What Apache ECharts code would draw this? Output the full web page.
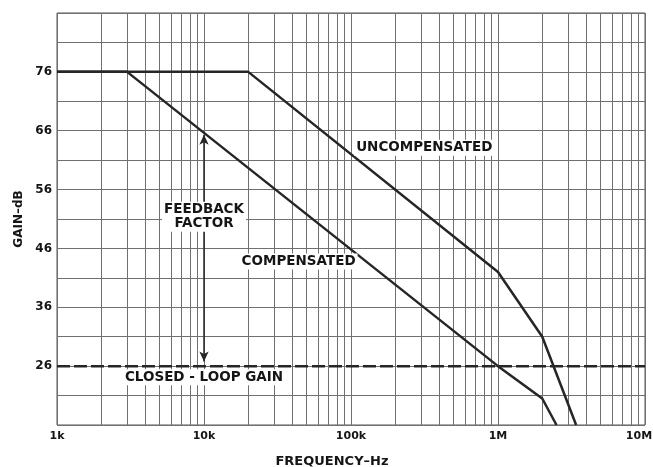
<!DOCTYPE html>
<html>
<head>
<meta charset="utf-8">
<script src="https://cdn.jsdelivr.net/npm/echarts@6/dist/echarts.min.js"></script>
<style>
  html, body { margin: 0; padding: 0; background: #fff; }
  #main { width: 653px; height: 467px; }
</style>
</head>
<body>
<div id="main"></div>
<script>
// Valeurs (fréquence en Hz, gain en dB)
var uncompFreq = [1000, 20000, 1000000, 2000000, 3400000];
var uncompGain = [76, 76, 42, 31, 16];
var compFreq = [1000, 3000, 1000000, 2000000, 2500000];
var compGain = [76, 76, 26, 20.5, 16];
var closedLoopGain = 26;
var feedbackFreq = 10000;
var feedbackTop = 65.3;
var feedbackBottom = 26.8;

// Graduations
var xTickValues = [1000, 10000, 100000, 1000000, 10000000];
var xTickLabels = ['1k', '10k', '100k', '1M', '10M'];
var yTickLabels = [26, 36, 46, 56, 66, 76];

// Textes posés sur le graphique
var noteText = ['UNCOMPENSATED', 'COMPENSATED', 'CLOSED - LOOP GAIN', 'FEEDBACK\nFACTOR'];
var noteFreq = [315000, 44000, 10000, 10000];
var noteGain = [63.1, 43.8, 24.1, 51.4];

var ink = '#151515';
var font = 'DejaVu Sans';

function pairs(xs, ys) {
	var out = [];
	for (var i = 0; i < xs.length; i++) {
		out.push([xs[i], ys[i]]);
	}
	return out;
}

// Lignes verticales de la grille log (2..9 dans chaque décade)
var minorLines = [];
for (var d = 1000; d < 10000000; d *= 10) {
	for (var m = 2; m <= 9; m++) {
		minorLines.push({ xAxis: d * m });
	}
}

var notes = [];
for (var i = 0; i < noteText.length; i++) {
	notes.push({ value: [noteFreq[i], noteGain[i]], name: noteText[i] });
}

var myChart = echarts.init(document.getElementById('main'));

var option = {
	backgroundColor: '#fff',
	animation: false,
	grid: {
		left: 57, right: 8, top: 13, bottom: 42,
		outerBoundsMode: 'none',
		show: true, borderColor: '#555', borderWidth: 1
	},
	xAxis: {
		type: 'log',
		logBase: 10,
		min: 1000,
		max: 10000000,
		name: 'FREQUENCY\u2013Hz',
		nameLocation: 'middle',
		nameGap: 30,
		nameTextStyle: { color: ink, fontFamily: font, fontWeight: 'bold', fontSize: 13, padding: [0, 38, 0, 0] },
		axisLine: { show: false },
		axisTick: { show: false },
		axisLabel: {
			color: ink, fontFamily: font, fontWeight: 'bold', fontSize: 11, margin: 6,
			formatter: function (v) {
				var k = xTickValues.indexOf(Math.round(v));
				if (k < 0) return '';
				// le dernier libellé est décalé vers la gauche pour rester dans le cadre
				return k === xTickValues.length - 1 ? '{end|' + xTickLabels[k] + '}' : xTickLabels[k];
			},
			rich: {
				end: { color: ink, fontFamily: font, fontWeight: 'bold', fontSize: 11, padding: [0, 12, 0, 0] }
			}
		},
		splitLine: { show: true, lineStyle: { color: '#707070', width: 1 } }
	},
	yAxis: {
		type: 'value',
		min: 16,
		max: 86,
		interval: 5,
		name: 'GAIN\u2013dB',
		nameLocation: 'middle',
		nameGap: 31,
		nameTextStyle: { color: ink, fontFamily: font, fontWeight: 'bold', fontSize: 12 },
		axisLine: { show: false },
		axisTick: { show: false },
		axisLabel: {
			color: ink, fontFamily: font, fontWeight: 'bold', fontSize: 12, margin: 5,
			formatter: function (v) {
				return yTickLabels.indexOf(Math.round(v)) >= 0 ? String(Math.round(v)) : '';
			}
		},
		splitLine: { show: true, lineStyle: { color: '#707070', width: 1 } }
	},
	series: [{
		name: 'grid',
		type: 'line',
		data: [],
		silent: true,
		markLine: {
			silent: true,
			symbol: ['none', 'none'],
			label: { show: false },
			lineStyle: { color: '#707070', width: 1, type: 'solid' },
			data: minorLines
		}
	}, {
		name: 'Uncompensated',
		type: 'line',
		data: pairs(uncompFreq, uncompGain),
		showSymbol: false,
		lineStyle: { color: '#262626', width: 2.5 },
		z: 5
	}, {
		name: 'Compensated',
		type: 'line',
		data: pairs(compFreq, compGain),
		showSymbol: false,
		lineStyle: { color: '#262626', width: 2.5 },
		z: 5
	}, {
		name: 'Closed-loop gain',
		type: 'line',
		data: [[1000, closedLoopGain], [10000000, closedLoopGain]],
		showSymbol: false,
		lineStyle: { color: '#262626', width: 2.5, type: [13, 4] },
		z: 5,
		markLine: {
			silent: true,
			symbol: ['arrow', 'arrow'],
			symbolSize: [7, 10],
			label: { show: false },
			lineStyle: { color: '#262626', width: 1.5, type: 'solid' },
			data: [[{ coord: [feedbackFreq, feedbackTop] }, { coord: [feedbackFreq, feedbackBottom] }]]
		}
	}, {
		name: 'notes',
		type: 'scatter',
		data: notes,
		symbolSize: 0,
		silent: true,
		z: 10,
		itemStyle: { opacity: 1 },
		label: {
			show: true,
			position: 'inside',
			formatter: function (p) { return p.name; },
			color: ink,
			opacity: 1,
			fontFamily: font,
			fontWeight: 'bold',
			fontSize: 13.5,
			lineHeight: 14,
			align: 'center',
			verticalAlign: 'middle',
			backgroundColor: '#fff',
			padding: [1, 2]
		}
	}]
};

myChart.setOption(option);
</script>
</body>
</html>
